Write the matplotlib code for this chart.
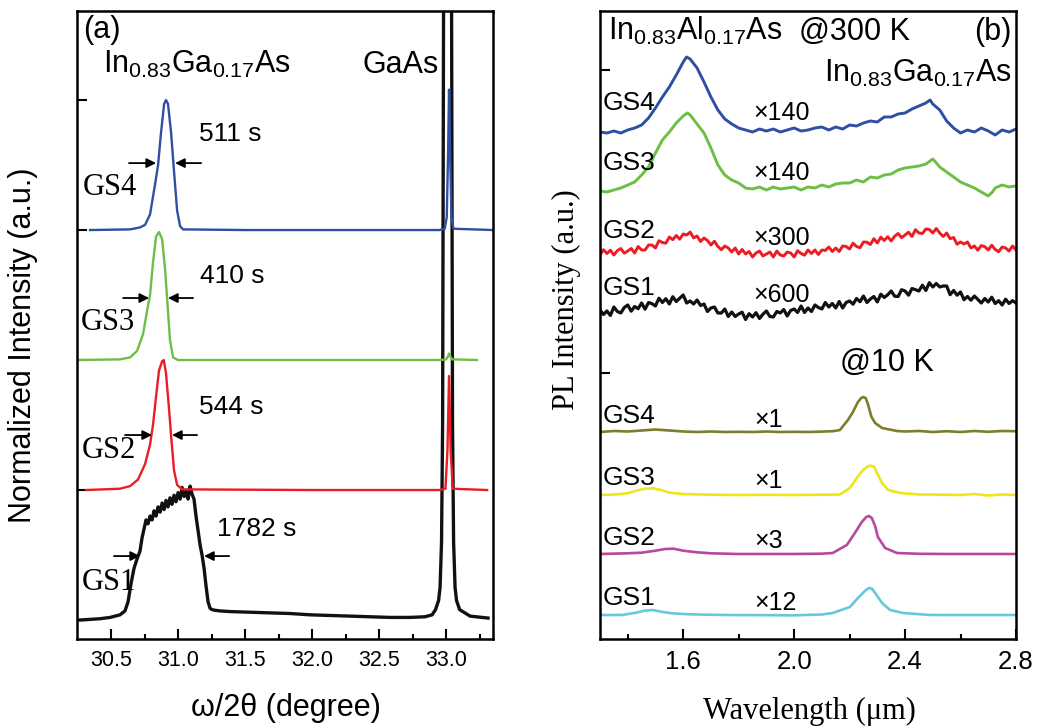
import numpy as np
import matplotlib
matplotlib.use("Agg")
import matplotlib.pyplot as plt
from matplotlib.ticker import MultipleLocator, FixedLocator, NullFormatter, FormatStrFormatter

plt.rcParams['font.family'] = ['Liberation Sans', 'DejaVu Sans']
plt.rcParams['mathtext.fontset'] = 'custom'
plt.rcParams['mathtext.rm'] = 'Liberation Sans'
plt.rcParams['mathtext.it'] = 'Liberation Sans:italic'
plt.rcParams['mathtext.bf'] = 'Liberation Sans:bold'

# ---------------- panel (a): XRD omega/2theta scans (normalized, offset) -------------
a_gs4_x = [30.343, 30.642, 30.716, 30.754, 30.791, 30.828, 30.851, 30.873, 30.896, 30.910,
           30.925, 30.948, 30.970, 30.993, 31.015, 31.037, 31.5, 32.0, 32.5, 32.95, 32.99,
           33.005, 33.015, 33.022, 33.03, 33.04, 33.055, 33.35]
a_gs4_y = [3.0, 3.005, 3.02, 3.04, 3.12, 3.35, 3.5, 3.75, 3.97, 4.0,
           3.97, 3.75, 3.45, 3.15, 3.03, 3.005, 3.0, 3.0, 3.0, 3.0, 3.01,
           3.1, 3.6, 4.08, 3.6, 3.1, 3.01, 3.0]

a_gs3_x = [30.246, 30.567, 30.642, 30.694, 30.739, 30.769, 30.791, 30.813, 30.836, 30.858,
           30.881, 30.903, 30.918, 30.940, 30.963, 31.0, 32.0, 32.95, 33.0, 33.015, 33.022,
           33.03, 33.045, 33.23]
a_gs3_y = [2.0, 2.005, 2.02, 2.07, 2.2, 2.38, 2.5, 2.75, 2.95, 2.985,
           2.93, 2.7, 2.48, 2.15, 2.02, 2.0, 2.0, 2.0, 2.005, 2.03, 2.05,
           2.03, 2.005, 2.0]

a_gs2_x = [30.313, 30.567, 30.642, 30.701, 30.754, 30.791, 30.813, 30.836, 30.858, 30.881,
           30.893, 30.910, 30.933, 30.948, 30.970, 30.993, 31.03, 32.0, 32.95, 32.995, 33.01,
           33.022, 33.034, 33.05, 33.306]
a_gs2_y = [1.0, 1.01, 1.03, 1.08, 1.2, 1.35, 1.5, 1.72, 1.92, 1.99,
           2.0, 1.9, 1.62, 1.42, 1.15, 1.04, 1.005, 1.0, 1.0, 1.01, 1.3,
           1.877, 1.3, 1.01, 1.0]

a_gs1_x = [30.269, 30.343, 30.418, 30.493, 30.567, 30.604, 30.627, 30.649, 30.672, 30.694,
           30.716, 30.731, 30.746, 30.761, 30.776, 30.791, 30.806, 30.821, 30.836, 30.851,
           30.866, 30.881, 30.896, 30.910, 30.925, 30.940, 30.955, 30.970, 30.985, 31.000,
           31.015, 31.030, 31.045, 31.060, 31.075, 31.090, 31.104, 31.119, 31.134, 31.149,
           31.164, 31.179, 31.194, 31.209, 31.224, 31.239, 31.254, 31.276, 31.313, 31.388,
           31.537, 31.687, 31.836, 31.985, 32.134, 32.284, 32.433, 32.582, 32.731, 32.843,
           32.896, 32.921, 32.944, 32.955, 32.966, 32.974, 32.981, 32.989, 32.996, 33.011,
           33.026, 33.033, 33.041, 33.048, 33.056, 33.067, 33.078, 33.101, 33.179, 33.313]
a_gs1_y = [0.0, 0.005, 0.01, 0.02, 0.04, 0.07, 0.14, 0.28, 0.40, 0.47,
           0.53, 0.63, 0.70, 0.77, 0.74, 0.80, 0.77, 0.84, 0.80, 0.87,
           0.83, 0.90, 0.85, 0.92, 0.87, 0.94, 0.89, 0.96, 0.91, 0.98,
           0.93, 1.02, 0.95, 0.99, 0.93, 1.03, 0.97, 0.93, 0.80, 0.69,
           0.58, 0.50, 0.40, 0.26, 0.14, 0.09, 0.08, 0.075, 0.07, 0.065,
           0.06, 0.055, 0.05, 0.04, 0.035, 0.03, 0.025, 0.02, 0.02, 0.025,
           0.04, 0.08, 0.15, 0.25, 0.6, 1.5, 4.7, 7.0, 12.0, 30.0,
           12.0, 7.0, 4.7, 1.5, 0.6, 0.25, 0.15, 0.08, 0.03, 0.015]

a_fwhm_labels = ["511 s", "410 s", "544 s", "1782 s"]
a_sample_labels = ["GS4", "GS3", "GS2", "GS1"]

# ---------------- panel (b): PL spectra (offset, a.u.) ------------------------------
b300_gs4_x = [1.300, 1.325, 1.350, 1.375, 1.400, 1.425, 1.450, 1.475, 1.500, 1.525, 1.550, 1.575,
              1.600, 1.612, 1.625, 1.650, 1.675, 1.700, 1.725, 1.750, 1.775, 1.800, 1.825, 1.850,
              1.875, 1.900, 1.925, 1.950, 1.975, 2.000, 2.025, 2.050, 2.075, 2.100, 2.125, 2.150,
              2.175, 2.200, 2.225, 2.250, 2.275, 2.300, 2.325, 2.350, 2.375, 2.400, 2.425, 2.450,
              2.475, 2.490, 2.500, 2.525, 2.550, 2.575, 2.600, 2.625, 2.650, 2.675, 2.700, 2.725,
              2.750, 2.775, 2.800]
b300_gs4_y = [50.7, 50.6, 50.8, 50.6, 50.9, 51.1, 51.4, 52.1, 53.1, 54.2, 55.2, 56.4,
              57.7, 58.2, 58.0, 57.1, 55.7, 54.2, 52.9, 52.0, 51.5, 51.1, 50.9, 50.7,
              51.0, 50.8, 51.0, 50.7, 50.9, 51.1, 50.8, 50.9, 51.1, 51.2, 50.9, 51.2,
              51.0, 51.4, 51.3, 51.6, 51.8, 51.7, 52.2, 52.2, 52.5, 52.6, 53.0, 53.3,
              53.6, 53.9, 53.5, 52.9, 51.8, 51.1, 50.6, 50.9, 50.7, 51.1, 50.8, 50.4,
              50.9, 50.7, 51.0]

b300_gs3_x = [1.300, 1.325, 1.350, 1.375, 1.400, 1.425, 1.450, 1.475, 1.500, 1.525, 1.550, 1.575,
              1.600, 1.615, 1.625, 1.650, 1.675, 1.700, 1.725, 1.750, 1.775, 1.800, 1.825, 1.850,
              1.875, 1.900, 1.925, 1.950, 1.975, 2.000, 2.025, 2.050, 2.075, 2.100, 2.125, 2.150,
              2.175, 2.200, 2.225, 2.250, 2.275, 2.300, 2.325, 2.350, 2.375, 2.400, 2.425, 2.450,
              2.475, 2.500, 2.510, 2.525, 2.550, 2.575, 2.600, 2.625, 2.650, 2.675, 2.700, 2.715,
              2.725, 2.750, 2.775, 2.800]
b300_gs3_y = [44.8, 44.7, 44.9, 45.1, 45.4, 45.7, 46.4, 47.2, 48.6, 49.9, 50.7, 51.6,
              52.3, 52.6, 52.4, 51.5, 50.6, 49.1, 47.4, 46.4, 45.9, 45.6, 45.1, 45.0,
              45.2, 44.9, 45.2, 45.0, 45.1, 45.2, 44.9, 45.2, 45.1, 45.4, 45.2, 45.5,
              45.6, 45.6, 45.9, 45.7, 46.2, 46.1, 46.4, 46.5, 46.9, 47.1, 47.2, 47.3,
              47.5, 48.0, 47.7, 47.2, 46.7, 46.2, 45.7, 45.4, 45.1, 44.7, 44.3, 44.7,
              45.1, 45.4, 45.2, 45.3]

# noisy spectra read on a 0.0125 um grid (1.3 ... 2.8 um)
b300_grid = np.linspace(1.3, 2.8, 121)
b300_gs2_y = [38.4, 38.93, 38.55, 38.88, 38.4, 38.83, 39.05, 38.58, 38.8, 39.05,
              38.6, 39.25, 38.9, 38.9, 39.4, 39.4, 39.1, 39.83, 39.65, 39.58,
              40.2, 39.93, 40.35, 39.98, 40.5, 40.4, 40.7, 40.1, 40.3, 39.75,
              40.1, 39.85, 39.4, 39.78, 39.25, 38.93, 39.3, 39.1, 38.7, 39.1,
              38.5, 38.95, 38.5, 38.75, 38.2, 38.6, 38.8, 38.3, 38.5, 38.7,
              38.2, 38.8, 38.4, 38.3, 38.7, 38.6, 38.2, 38.83, 38.55, 38.38,
              38.9, 38.55, 38.9, 38.45, 38.9, 38.85, 39.2, 38.75, 39.1, 38.75,
              39.3, 39.25, 39.0, 39.58, 39.25, 39.13, 39.7, 39.68, 39.45, 40.03,
              39.6, 40.18, 39.85, 40.23, 39.8, 40.28, 40.55, 40.13, 40.4, 40.68,
              40.25, 40.93, 40.6, 40.55, 41.0, 40.95, 40.6, 41.05, 40.6, 40.25,
              40.6, 40.03, 40.15, 39.48, 39.7, 39.5, 39.7, 39.1, 39.3, 38.88,
              39.35, 39.23, 38.9, 39.38, 38.95, 38.73, 39.2, 39.1, 38.8, 39.3,
              38.9]
b300_gs1_y = [32.9, 32.45, 32.8, 32.35, 33.2, 32.75, 32.6, 33.15, 33.4, 32.78,
              33.25, 33.03, 33.6, 32.98, 33.65, 33.53, 33.3, 34.08, 33.65, 34.03,
              33.5, 34.23, 33.75, 34.08, 34.4, 33.6, 33.8, 33.5, 33.9, 33.35,
              33.5, 32.75, 33.1, 33.2, 32.6, 32.6, 33.0, 32.25, 32.7, 32.25,
              32.5, 32.68, 31.95, 32.53, 32.2, 32.63, 32.05, 32.48, 32.8, 32.25,
              32.2, 32.75, 32.6, 32.95, 32.3, 32.85, 33.0, 32.65, 33.3, 32.65,
              33.1, 32.75, 33.4, 33.15, 33.0, 33.65, 33.2, 33.55, 33.1, 33.75,
              33.1, 33.65, 33.8, 33.48, 34.05, 33.73, 34.3, 33.65, 34.0, 34.25,
              33.7, 34.48, 34.15, 34.43, 34.8, 34.28, 34.25, 34.93, 34.8, 34.38,
              35.05, 34.93, 34.8, 35.38, 34.85, 35.63, 35.2, 35.55, 35.2, 35.3,
              35.3, 34.43, 34.85, 34.38, 34.7, 33.93, 34.25, 33.88, 34.3, 33.95,
              33.6, 34.05, 33.7, 34.18, 33.55, 33.83, 33.4, 33.98, 33.55, 33.83,
              33.6]

b10_gs4_x = [1.30, 1.35, 1.40, 1.45, 1.50, 1.55, 1.60, 1.65, 1.70, 1.75, 1.80, 1.85, 1.90,
             1.95, 2.00, 2.05, 2.10, 2.14, 2.165, 2.194, 2.212, 2.230, 2.242, 2.250, 2.258,
             2.266, 2.279, 2.292, 2.317, 2.371, 2.40, 2.45, 2.50, 2.55, 2.60, 2.65, 2.70,
             2.75, 2.80]
b10_gs4_y = [20.7, 20.8, 20.75, 20.85, 20.95, 20.85, 20.75, 20.7, 20.75, 20.7, 20.72, 20.7, 20.75,
             20.7, 20.72, 20.7, 20.74, 20.78, 20.9, 21.9, 22.7, 23.7, 24.1, 24.2, 24.1,
             23.5, 22.2, 21.6, 21.1, 20.8, 20.75, 20.8, 20.7, 20.78, 20.7, 20.8, 20.72,
             20.8, 20.78]

b10_gs3_x = [1.30, 1.35, 1.40, 1.43, 1.46, 1.49, 1.52, 1.55, 1.60, 1.70, 1.80, 1.90, 2.00,
             2.10, 2.165, 2.201, 2.226, 2.248, 2.265, 2.277, 2.289, 2.299, 2.317, 2.339,
             2.382, 2.454, 2.50, 2.60, 2.65, 2.70, 2.75, 2.80]
b10_gs3_y = [14.4, 14.45, 14.57, 14.83, 15.03, 15.07, 14.9, 14.63, 14.5, 14.43, 14.4, 14.42, 14.4,
             14.43, 14.45, 15.1, 16.1, 16.9, 17.25, 17.35, 17.2, 16.6, 15.6, 14.9,
             14.6, 14.45, 14.45, 14.4, 14.5, 14.35, 14.45, 14.4]

b10_gs2_x = [1.30, 1.40, 1.45, 1.50, 1.535, 1.565, 1.60, 1.65, 1.70, 1.80, 1.90, 2.00, 2.10,
             2.139, 2.19, 2.219, 2.244, 2.260, 2.270, 2.280, 2.292, 2.302, 2.328, 2.371,
             2.45, 2.55, 2.80]
b10_gs2_y = [8.5, 8.57, 8.63, 8.83, 9.0, 9.03, 8.83, 8.67, 8.57, 8.5, 8.5, 8.5, 8.53,
             8.6, 9.4, 10.6, 11.7, 12.2, 12.3, 12.1, 11.3, 10.2, 9.1, 8.6,
             8.52, 8.5, 8.5]

b10_gs1_x = [1.30, 1.38, 1.43, 1.46, 1.49, 1.52, 1.56, 1.62, 1.75, 2.00, 2.10, 2.139, 2.201,
             2.230, 2.255, 2.266, 2.273, 2.282, 2.292, 2.317, 2.346, 2.393, 2.49, 2.60, 2.80]
b10_gs1_y = [2.4, 2.4, 2.63, 2.83, 2.9, 2.73, 2.57, 2.47, 2.4, 2.37, 2.45, 2.6, 3.2,
             4.1, 4.8, 5.05, 5.1, 5.0, 4.6, 3.6, 2.9, 2.6, 2.4, 2.4, 2.4]

b300_factors = ["×140", "×140", "×300", "×600"]
b10_factors = ["×1", "×1", "×3", "×12"]

# ---------------- styling ----------------
C_BLUE = "#2E4FA3"
C_GREEN = "#6CBF45"
C_RED = "#EC1C24"
C_BLACK = "#111111"
C_OLIVE = "#7D7D2D"
C_YELLOW = "#EDE61C"
C_MAGENTA = "#B8489E"
C_CYAN = "#66C8DB"

SANS = ['Liberation Sans', 'DejaVu Sans']
SERIF = ['Liberation Serif', 'DejaVu Serif']

W, H = 1038, 727
fig = plt.figure(figsize=(W / 100, H / 100), dpi=100)
axa = fig.add_axes([77 / W, 88 / H, 416 / W, 628 / H])
axb = fig.add_axes([600 / W, 88 / H, 416 / W, 628 / H])

for ax in (axa, axb):
    for sp in ax.spines.values():
        sp.set_linewidth(1.8)
    ax.tick_params(which='both', direction='in', top=False, right=False, width=1.5)
    ax.tick_params(which='major', length=7, pad=8)
    ax.tick_params(which='minor', length=3.5)

# ---- panel (a)
axa.plot(a_gs1_x, a_gs1_y, color=C_BLACK, lw=2.4)
axa.plot(a_gs2_x, a_gs2_y, color=C_RED, lw=1.7)
axa.plot(a_gs3_x, a_gs3_y, color=C_GREEN, lw=1.7)
axa.plot(a_gs4_x, a_gs4_y, color=C_BLUE, lw=1.7)
axa.set_xlim(30.246, 33.35)
axa.set_ylim(-0.146, 4.685)
axa.xaxis.set_major_locator(MultipleLocator(0.5))
axa.xaxis.set_minor_locator(FixedLocator([30.75, 31.25, 31.75, 32.25, 32.75, 33.25]))
axa.xaxis.set_major_formatter(FormatStrFormatter('%.1f'))
axa.yaxis.set_major_locator(FixedLocator([0, 1, 2, 3, 4]))
axa.yaxis.set_major_formatter(NullFormatter())
for lab in axa.get_xticklabels():
    lab.set_fontsize(15.5)
    lab.set_family(SANS)

fig.text(23 / W, 0.525, "Normalized Intensity (a.u.)", rotation=90, ha='center', va='center',
         fontsize=22, family=SANS)
fig.text(286 / W, (H - 708) / H, "ω/2θ (degree)", ha='center', va='center', fontsize=22, family=SANS)

axa.text(0.0144, 0.957, "(a)", transform=axa.transAxes, fontsize=22, family=SANS, va='baseline')
axa.text(0.0625, 0.901, r"$\mathregular{In_{0.83}Ga_{0.17}As}$", transform=axa.transAxes,
         fontsize=22, va='baseline')
axa.text(0.6875, 0.901, "GaAs", transform=axa.transAxes, fontsize=22, family=SANS, va='baseline')

fwhm_pos = [(0.293, 0.793), (0.296, 0.567), (0.293, 0.358), (0.337, 0.164)]
gs_pos = [(0.0144, 0.707), (0.0096, 0.492), (0.012, 0.288), (0.012, 0.078)]
for lab, (fx, fy) in zip(a_fwhm_labels, fwhm_pos):
    axa.text(fx, fy, lab, transform=axa.transAxes, fontsize=19, family=SANS, va='baseline')
for lab, (fx, fy) in zip(a_sample_labels, gs_pos):
    axa.text(fx, fy, lab, transform=axa.transAxes, fontsize=22, family=SERIF, va='baseline')

arrow_specs = [  # (y, left tail, left head, right tail, right head)
    (3.515, 30.634, 30.836, 31.172, 30.978),
    (2.477, 30.590, 30.784, 31.112, 30.925),
    (1.423, 30.604, 30.806, 31.142, 30.955),
    (0.492, 30.522, 30.716, 31.381, 31.194),
]
aprops = dict(arrowstyle='-|>', color='k', lw=1.3, mutation_scale=14, shrinkA=0, shrinkB=0)
for yv, lt, lh, rt, rh in arrow_specs:
    axa.annotate('', xy=(lh, yv), xytext=(lt, yv), arrowprops=aprops)
    axa.annotate('', xy=(rh, yv), xytext=(rt, yv), arrowprops=aprops)

# ---- panel (b)
axb.plot(b300_grid, b300_gs1_y, color=C_BLACK, lw=2.3)
axb.plot(b300_grid, b300_gs2_y, color=C_RED, lw=2.1)
axb.plot(b300_gs3_x, b300_gs3_y, color=C_GREEN, lw=2.1)
axb.plot(b300_gs4_x, b300_gs4_y, color=C_BLUE, lw=2.1)
axb.plot(b10_gs4_x, b10_gs4_y, color=C_OLIVE, lw=1.9)
axb.plot(b10_gs3_x, b10_gs3_y, color=C_YELLOW, lw=1.9)
axb.plot(b10_gs2_x, b10_gs2_y, color=C_MAGENTA, lw=1.9)
axb.plot(b10_gs1_x, b10_gs1_y, color=C_CYAN, lw=1.9)
axb.set_xlim(1.3, 2.8)
axb.set_ylim(0, 62.8)
axb.xaxis.set_major_locator(FixedLocator([1.6, 2.0, 2.4, 2.8]))
axb.xaxis.set_minor_locator(FixedLocator([1.4, 1.8, 2.2, 2.6]))
axb.xaxis.set_major_formatter(FormatStrFormatter('%.1f'))
axb.yaxis.set_major_locator(FixedLocator([26.6, 56.9]))
axb.yaxis.set_major_formatter(NullFormatter())
for lab in axb.get_xticklabels():
    lab.set_fontsize(18.5)
    lab.set_family(SANS)

fig.text(566 / W, (H - 300) / H, "PL Intensity (a.u.)", rotation=90, ha='center', va='center',
         fontsize=22, family=SERIF)
fig.text(809 / W, (H - 711) / H, "Wavelength (μm)", ha='center', va='center', fontsize=22, family=SERIF)

axb.text(0.019, 0.954, r"$\mathregular{In_{0.83}Al_{0.17}As}$", transform=axb.transAxes,
         fontsize=22, va='baseline')
axb.text(0.478, 0.954, "@300 K", transform=axb.transAxes, fontsize=22, family=SANS, va='baseline')
axb.text(0.990, 0.954, "(b)", transform=axb.transAxes, fontsize=22, family=SANS, va='baseline', ha='right')
axb.text(0.990, 0.887, r"$\mathregular{In_{0.83}Ga_{0.17}As}$", transform=axb.transAxes,
         fontsize=22, va='baseline', ha='right')
axb.text(0.577, 0.427, "@10 K", transform=axb.transAxes, fontsize=22, family=SANS, va='baseline')

gs300_y = [0.842, 0.747, 0.639, 0.548]
fac300_y = [0.826, 0.731, 0.627, 0.537]
gs10_y = [0.344, 0.245, 0.150, 0.054]
fac10_y = [0.338, 0.240, 0.145, 0.046]
for lab, gy, fac, fy in zip(a_sample_labels, gs300_y, b300_factors, fac300_y):
    axb.text(0.007, gy, lab, transform=axb.transAxes, fontsize=19, family=SANS, va='baseline')
    axb.text(0.368, fy, fac, transform=axb.transAxes, fontsize=18, family=SANS, va='baseline')
for lab, gy, fac, fy in zip(a_sample_labels, gs10_y, b10_factors, fac10_y):
    axb.text(0.007, gy, lab, transform=axb.transAxes, fontsize=19, family=SANS, va='baseline')
    axb.text(0.372, fy, fac, transform=axb.transAxes, fontsize=18, family=SANS, va='baseline')

fig.savefig("out.png", dpi=100)
